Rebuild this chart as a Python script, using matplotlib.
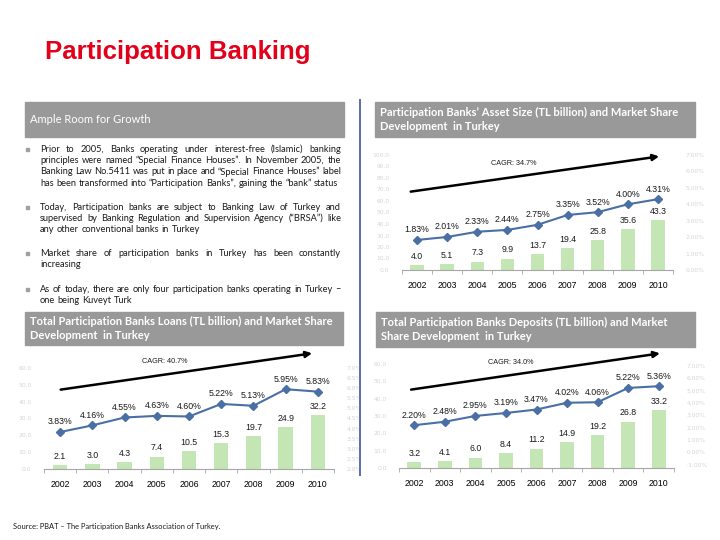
import numpy as np
import matplotlib
matplotlib.use("Agg")
import matplotlib.pyplot as plt
from matplotlib.patches import Rectangle

# ---- data -------------------------------------------------------------
years = ["2002", "2003", "2004", "2005", "2006", "2007", "2008", "2009", "2010"]

asset_size = [4.0, 5.1, 7.3, 9.9, 13.7, 19.4, 25.8, 35.6, 43.3]
asset_share = [1.83, 2.01, 2.33, 2.44, 2.75, 3.35, 3.52, 4.00, 4.31]

loans_size = [2.1, 3.0, 4.3, 7.4, 10.5, 15.3, 19.7, 24.9, 32.2]
loans_share = [3.83, 4.16, 4.55, 4.63, 4.60, 5.22, 5.13, 5.95, 5.83]

deposits_size = [3.2, 4.1, 6.0, 8.4, 11.2, 14.9, 19.2, 26.8, 33.2]
deposits_share = [2.20, 2.48, 2.95, 3.19, 3.47, 4.02, 4.06, 5.22, 5.36]

cagr_labels = ["CAGR: 34.7%", "CAGR: 40.7%", "CAGR: 34.0%"]

title = "Participation Banking"
headers = [
    "Ample Room for Growth",
    "Participation Banks’ Asset Size (TL billion) and Market Share\nDevelopment  in Turkey",
    "Total Participation Banks Loans (TL billion) and Market Share\nDevelopment  in Turkey",
    "Total Participation Banks Deposits (TL billion) and Market\nShare Development  in Turkey",
]
bullets = [
    ["Prior to 2005, Banks operating under interest-free (Islamic) banking",
     "principles were named “Special Finance Houses”. In November 2005, the",
     "Banking Law No.5411 was put in place and “Special Finance Houses” label",
     "has been transformed into “Participation Banks”, gaining the “bank” status"],
    ["Today, Participation banks are subject to Banking Law of Turkey and",
     "supervised by Banking Regulation and Supervision Agency (“BRSA”) like",
     "any other conventional banks in Turkey"],
    ["Market share of participation banks in Turkey has been constantly",
     "increasing"],
    ["As of today, there are only four participation banks operating in Turkey –",
     "one being Kuveyt Turk"],
]
source = "Source: PBAT – The Participation Banks Association of Turkey."

# ---- styling ----------------------------------------------------------
W, H = 720, 540
BAR = "#c4e6b4"
LINE = "#4a6fa5"
HEAD = "#999999"
TXT = "Lato"
NUM = "Liberation Sans"


def fx(x):
    return x / W


def fy(y):
    return 1 - y / H


def px_rect(l, t, r, b):
    return [l / W, 1 - b / H, (r - l) / W, (b - t) / H]


fig = plt.figure(figsize=(7.2, 5.4), dpi=100)

# title
fig.text(fx(45), fy(52), title, color="#e2001a", fontsize=18.6, fontweight="bold",
         family=NUM, va="center", ha="left")

# header boxes
boxes = [(25, 102, 344, 137), (375, 102, 695, 137), (25, 312, 343, 345), (376, 312, 695, 347)]
for (l, t, r, b), txt in zip(boxes, headers):
    fig.patches.append(Rectangle((fx(l), fy(b)), (r - l) / W, (b - t) / H,
                                 transform=fig.transFigure, color=HEAD, zorder=0))
    fig.text(fx(l + 5), fy((t + b) / 2), txt, color="white", fontsize=8.0, family=TXT,
             fontweight="bold" if "\n" in txt else "normal",
             va="center", ha="left", linespacing=1.35)

# blue separator
fig.add_artist(plt.Line2D([fx(360), fx(360)], [fy(100), fy(475)], color="#5a6fb0", lw=1.4))

# justified bullet text
renderer = fig.canvas.get_renderer()


def width_of(s, size):
    t = fig.text(0, 0, s, fontsize=size, family=TXT)
    w = t.get_window_extent(renderer).width
    t.remove()
    return w


def justified(lines, x0, x1, y0, dy, size):
    space = width_of("a a", size) - width_of("aa", size)
    for i, line in enumerate(lines):
        words = line.split()
        widths = [width_of(w, size) for w in words]
        if i < len(lines) - 1 and len(words) > 1:
            gap = (x1 - x0 - sum(widths)) / (len(words) - 1)
        else:
            gap = space
        x = x0
        for w, wd in zip(words, widths):
            fig.text(fx(x), fy(y0 + i * dy), w, fontsize=size, family=TXT,
                     color="#1a1a1a", va="center", ha="left")
            x += wd + gap


para_top = [149, 207, 253, 289]
for lines, y0 in zip(bullets, para_top):
    fig.patches.append(Rectangle((fx(26), fy(y0 + 1.5)), 3 / W, 3 / H,
                                 transform=fig.transFigure, color="#a0a0a0"))
    justified(lines, 40, 341, y0, 11.4, 6.7)

fig.text(fx(13), fy(527), source, fontsize=5.4, family=TXT, color="#1a1a1a",
         va="center", ha="left")


# ---- charts -----------------------------------------------------------
def chart(rect, sizes, shares, left_max, right_lim, right_step, right_fmt,
          arrow_from, arrow_to, cagr, cagr_xy):
    ax = fig.add_axes(rect)
    x = np.arange(len(years))
    ax.bar(x, sizes, width=0.45, color=BAR, zorder=2)
    for i, v in enumerate(sizes):
        ax.annotate(f"{v:.1f}", (i, v), xytext=(0, 3), textcoords="offset points",
                    ha="center", va="bottom", fontsize=6.3, family=NUM, color="#1a1a1a")
    ax.set_xlim(-0.5, len(years) - 0.5)
    ax.set_ylim(0, left_max)
    ax.set_yticks(np.arange(0, left_max + 0.1, 10))
    ax.set_yticklabels([f"{v:.1f}" for v in np.arange(0, left_max + 0.1, 10)])
    ax.set_xticks(x, years)
    ax.set_xticks(np.arange(-0.5, len(years), 1), minor=True)
    ax.tick_params(axis="x", which="major", length=0, pad=8, labelsize=6.3)
    ax.tick_params(axis="x", which="minor", length=3, color="#a6a6a6")
    ax.tick_params(axis="y", length=0, labelsize=4.3, labelcolor="#d4d4d4", pad=9)
    for lab in ax.get_xticklabels():
        lab.set_family(NUM)
    for s in ["top", "left", "right"]:
        ax.spines[s].set_visible(False)
    ax.spines["bottom"].set_color("#a6a6a6")
    ax.spines["bottom"].set_linewidth(0.8)
    ax.set_facecolor("none")

    ax2 = ax.twinx()
    ax2.plot(x, shares, color=LINE, lw=1.5, marker="D", ms=3.6, zorder=3)
    for i, v in enumerate(shares):
        ax2.annotate(f"{v:.2f}%", (i, v), xytext=(0, 4), textcoords="offset points",
                     ha="center", va="bottom", fontsize=6.3, family=NUM, color="#1a1a1a")
    ax2.set_ylim(*right_lim)
    ticks = np.arange(np.ceil(right_lim[0]), right_lim[1] + 0.01, right_step)
    ax2.set_yticks(ticks)
    ax2.set_yticklabels([right_fmt.format(t) for t in ticks])
    ax2.tick_params(axis="y", length=0, labelsize=4.3, labelcolor="#d4d4d4", pad=9)
    for s in ax2.spines.values():
        s.set_visible(False)

    ax2.annotate("", xy=arrow_to, xytext=arrow_from, xycoords="axes fraction",
                 textcoords="axes fraction", annotation_clip=False,
                 arrowprops=dict(arrowstyle="-|>", lw=1.8, color="black", mutation_scale=9))
    ax2.text(cagr_xy[0], cagr_xy[1], cagr, transform=ax2.transAxes, fontsize=5.2,
             family=NUM, ha="center", va="center", color="#1a1a1a")


chart(px_rect(402, 155, 673, 270), asset_size, asset_share, 100, (0, 7), 1, "{:.2f}%",
      (0.022, 0.678), (0.959, 0.991), cagr_labels[0], (0.413, 0.93))
chart(px_rect(44, 368, 334, 469), loans_size, loans_share, 60, (2, 7), 0.5, "{:.1f}%",
      (0.048, 0.782), (0.934, 1.149), cagr_labels[1], (0.417, 1.06))
chart(px_rect(399, 364, 674, 468), deposits_size, deposits_share, 60, (-1.27, 7.16), 1, "{:.2f}%",
      (0.034, 0.75), (0.959, 1.106), cagr_labels[2], (0.408, 1.019))

fig.savefig("out.png", dpi=100)
